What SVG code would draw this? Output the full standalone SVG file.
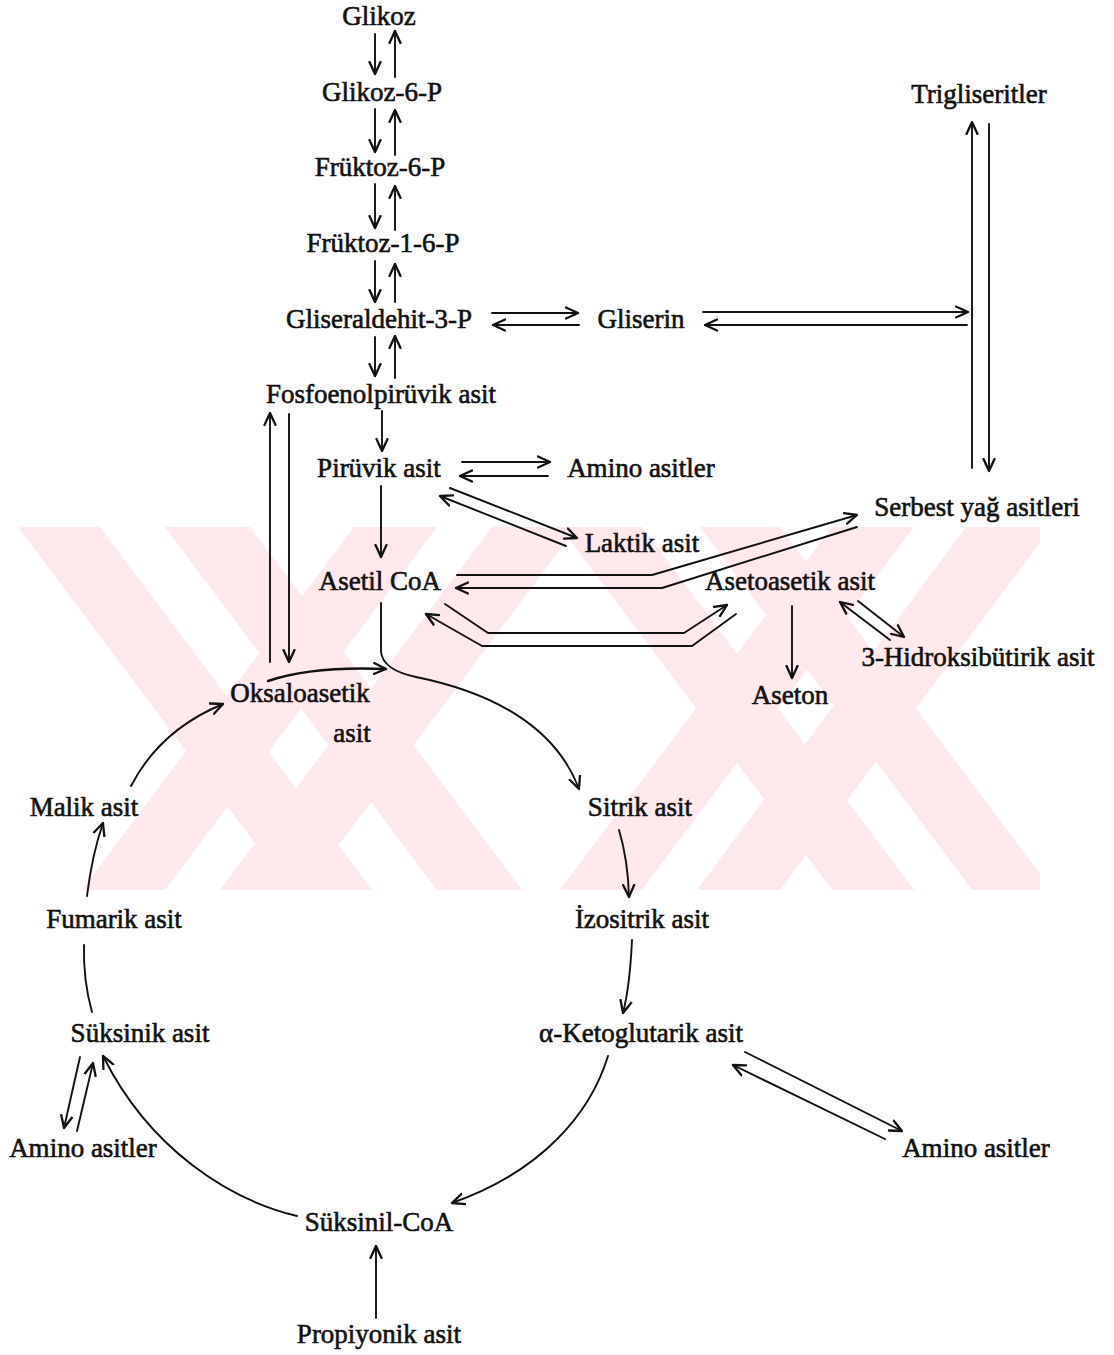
<svg xmlns="http://www.w3.org/2000/svg" width="1114" height="1355" viewBox="0 0 1114 1355">
<defs>
<style>
.t{font-family:"Liberation Serif","Times New Roman",serif;font-size:27px;fill:#111;stroke:#111;stroke-width:0.6;text-anchor:middle}
.c{fill:none;stroke:#111;stroke-width:1.9;stroke-linecap:round;stroke-linejoin:round}
.h{marker-end:url(#ah)}
.wm{fill:#fde8ec}
</style>
<marker id="ah" markerWidth="16" markerHeight="14" refX="13" refY="7" orient="auto" markerUnits="userSpaceOnUse" viewBox="0 0 16 14">
<path d="M1,1.5 L13,7 L1,12.5" fill="none" stroke="#111" stroke-width="2.3" stroke-linecap="round" stroke-linejoin="round"/>
</marker>
<clipPath id="wmc"><rect x="0" y="527" width="1114" height="363"/></clipPath>
</defs>
<rect width="1114" height="1355" fill="#fff"/>
<g id="watermark" clip-path="url(#wmc)">
<polygon class="wm" points="18,527 100,527 372,890 290,890"/>
<polygon class="wm" points="165,527 250,527 522,890 437,890"/>
<polygon class="wm" points="82,890 165,890 437,527 354,527"/>
<polygon class="wm" points="220,890 305,890 577,527 492,527"/>
<polygon class="wm" points="560,527 642,527 914,890 832,890"/>
<polygon class="wm" points="700,527 780,527 1040,874 1040,890 972,890"/>
<polygon class="wm" points="560,890 642,890 914,527 832,527"/>
<polygon class="wm" points="697,890 780,890 1040,543 1040,527 966,527"/>
</g>
<g id="connectors">
<path class="c h" d="M375,34 L375,74"/><path class="c h" d="M395,77 L395,31"/>
<path class="c h" d="M375,109 L375,152"/><path class="c h" d="M395,155 L395,110"/>
<path class="c h" d="M375,184 L375,228"/><path class="c h" d="M395,230 L395,186"/>
<path class="c h" d="M375,261 L375,302"/><path class="c h" d="M395,302 L395,264"/>
<path class="c h" d="M375,337 L375,376"/><path class="c h" d="M395,378 L395,336"/>
<path class="c h" d="M492,313 L578,313"/><path class="c h" d="M579,325 L493,325"/>
<path class="c h" d="M703,312 L968,312"/><path class="c h" d="M967,325 L705,325"/>
<path class="c h" d="M972,468 L972,122"/><path class="c h" d="M989,124 L989,471"/>
<path class="c h" d="M382,411 L382,451"/>
<path class="c h" d="M462,462 L550,462"/><path class="c h" d="M548,476 L460,476"/>
<path class="c h" d="M450,488 L577,538"/><path class="c h" d="M566,546 L440,496"/>
<path class="c h" d="M381,486 L381,557"/>
<path class="c h" d="M270,662 L270,413"/><path class="c h" d="M289,414 L289,662"/>
<path class="c h" d="M457,575 L652,575 L857,515"/><path class="c h" d="M857,527 L662,588 L456,588"/>
<path class="c h" d="M445,604 L488,633 L684,633 L727,605"/><path class="c h" d="M736,614 L692,646 L482,646 L426,614"/>
<path class="c h" d="M792,606 L792,678"/>
<path class="c h" d="M890,640 L840,602"/><path class="c h" d="M858,601 L904,637"/>
<path class="c h" d="M381,603 L381,652 Q383,670 416,677 C490,692 555,725 579,789"/>
<path class="c h" d="M268,681 Q312,666 386,669" style="stroke-width:2.5"/>
<path class="c h" d="M131,786 Q160,730 223,704"/>
<path class="c h" d="M87,896 Q92,855 103,823"/>
<path class="c" d="M92,1012 Q83,980 84,945"/>
<path class="c h" d="M80,1057 L64,1128"/><path class="c h" d="M77,1131 L93,1063"/>
<path class="c h" d="M297,1216 C230,1200 150,1150 103,1056"/>
<path class="c h" d="M608,1056 C590,1115 540,1172 452,1203"/>
<path class="c h" d="M745,1052 L902,1131"/><path class="c h" d="M885,1139 L733,1065"/>
<path class="c h" d="M619,830 Q628,860 629,897"/>
<path class="c h" d="M632,940 Q630,985 623,1013"/>
<path class="c h" d="M376,1318 L376,1246"/>
</g>
<g id="n-glikoz"><text class="t" x="379" y="25">Glikoz</text></g>
<g id="n-glikoz6p"><text class="t" x="382" y="101">Glikoz-6-P</text></g>
<g id="n-fruktoz6p"><text class="t" x="380" y="176">Früktoz-6-P</text></g>
<g id="n-fruktoz16p"><text class="t" x="383" y="252">Früktoz-1-6-P</text></g>
<g id="n-gliseraldehit"><text class="t" x="379" y="328">Gliseraldehit-3-P</text></g>
<g id="n-gliserin"><text class="t" x="641" y="328">Gliserin</text></g>
<g id="n-trigliseritler"><text class="t" x="979" y="103">Trigliseritler</text></g>
<g id="n-pep"><text class="t" x="381" y="403">Fosfoenolpirüvik asit</text></g>
<g id="n-piruvik"><text class="t" x="379" y="477">Pirüvik asit</text></g>
<g id="n-amino1"><text class="t" x="641" y="477">Amino asitler</text></g>
<g id="n-serbest"><text class="t" x="977" y="516">Serbest yağ asitleri</text></g>
<g id="n-laktik"><text class="t" x="642" y="552">Laktik asit</text></g>
<g id="n-asetilcoa"><text class="t" x="380" y="590">Asetil CoA</text></g>
<g id="n-asetoasetik"><text class="t" x="790" y="590">Asetoasetik asit</text></g>
<g id="n-hidroksi"><text class="t" x="978" y="666">3-Hidroksibütirik asit</text></g>
<g id="n-aseton"><text class="t" x="790" y="704">Aseton</text></g>
<g id="n-oksalo"><text class="t" x="300" y="702">Oksaloasetik</text><text class="t" x="352" y="742">asit</text></g>
<g id="n-malik"><text class="t" x="84" y="816">Malik asit</text></g>
<g id="n-sitrik"><text class="t" x="640" y="816">Sitrik asit</text></g>
<g id="n-fumarik"><text class="t" x="114" y="928">Fumarik asit</text></g>
<g id="n-izositrik"><text class="t" x="642" y="928">İzositrik asit</text></g>
<g id="n-suksinik"><text class="t" x="140" y="1042">Süksinik asit</text></g>
<g id="n-ketoglutarik"><text class="t" x="641" y="1042">α-Ketoglutarik asit</text></g>
<g id="n-amino2"><text class="t" x="83" y="1157">Amino asitler</text></g>
<g id="n-amino3"><text class="t" x="976" y="1157">Amino asitler</text></g>
<g id="n-suksinilcoa"><text class="t" x="379" y="1231">Süksinil-CoA</text></g>
<g id="n-propiyonik"><text class="t" x="379" y="1343">Propiyonik asit</text></g>
</svg>
